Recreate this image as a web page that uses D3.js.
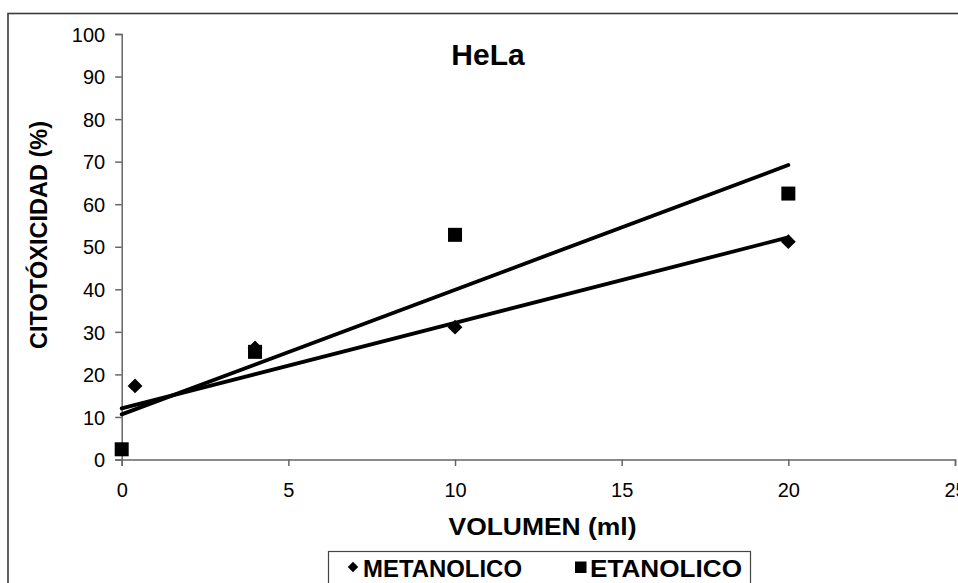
<!DOCTYPE html>
<html>
<head>
<meta charset="utf-8">
<script src="https://cdn.jsdelivr.net/npm/d3@7/dist/d3.min.js"></script>
<style>
  html, body { margin: 0; padding: 0; background: #fff; }
  svg { display: block; font-family: "Liberation Sans", Arial, sans-serif; }
</style>
</head>
<body>
<svg id="chart" width="958" height="583"></svg>
<script>
// Volume (ml) vs. cytotoxicity (%) on HeLa cells
const metanolicoX = [0.4, 4, 10, 20];
const metanolicoY = [17.3, 26.2, 31.1, 51.2];
const etanolicoX = [0, 4, 10, 20];
const etanolicoY = [2.4, 25.3, 52.8, 62.5];

// Linear trend lines: [x, y] at start and end
const metanolicoTrend = [[0, 12.0], [20, 52.2]];
const etanolicoTrend = [[0, 10.6], [20, 69.2]];

const xTicks = [0, 5, 10, 15, 20, 25];
const yTicks = [0, 10, 20, 30, 40, 50, 60, 70, 80, 90, 100];

const svg = d3.select("#chart");

const x = d3.scaleLinear().domain([0, 25]).range([121.7, 955]);
const y = d3.scaleLinear().domain([0, 100]).range([459.5, 34]);

// Outer chart border
svg.append("rect")
  .attr("x", 8).attr("y", 13.5)
  .attr("width", 1000).attr("height", 700)
  .attr("fill", "none").attr("stroke", "#3a3a3a").attr("stroke-width", 1.6);

// Axes
const xAxis = d3.axisBottom(x).tickValues(xTicks).tickSizeOuter(0).tickSize(6.5);
const yAxis = d3.axisLeft(y).tickValues(yTicks).tickSizeOuter(0).tickSize(6.5);

const gx = svg.append("g").attr("transform", `translate(0,${y(0)})`).call(xAxis);
const gy = svg.append("g").attr("transform", `translate(${x(0)},0)`).call(yAxis);

[gx, gy].forEach(g => {
  g.select(".domain").attr("stroke", "#666").attr("stroke-width", 1.5);
  g.selectAll(".tick line").attr("stroke", "#666").attr("stroke-width", 1.5);
  g.selectAll(".tick text").attr("fill", "#000").attr("font-size", 20)
    .attr("font-family", "Liberation Sans, Arial, sans-serif");
});
gx.selectAll(".tick text").attr("dy", 0).attr("y", 37.5);
gy.selectAll(".tick text").attr("x", -16.5).attr("dy", "0.36em");

// Trend lines
const line = d3.line().x(d => x(d[0])).y(d => y(d[1]));
[metanolicoTrend, etanolicoTrend].forEach(t => {
  svg.append("path").attr("d", line(t))
    .attr("fill", "none").attr("stroke", "#000")
    .attr("stroke-width", 3.8).attr("stroke-linecap", "round");
});

// Markers
const diamond = d3.symbol().type(d3.symbolSquare).size(110);
svg.append("g").selectAll("path")
  .data(d3.zip(metanolicoX, metanolicoY))
  .join("path")
  .attr("d", diamond)
  .attr("transform", d => `translate(${x(d[0])},${y(d[1])}) rotate(45)`)
  .attr("fill", "#000");

svg.append("g").selectAll("rect")
  .data(d3.zip(etanolicoX, etanolicoY))
  .join("rect")
  .attr("x", d => x(d[0]) - 7).attr("y", d => y(d[1]) - 7)
  .attr("width", 14).attr("height", 14)
  .attr("fill", "#000");

// Title
svg.append("text")
  .attr("x", 488).attr("y", 65)
  .attr("text-anchor", "middle")
  .attr("font-size", 30).attr("font-weight", "bold")
  .text("HeLa");

// Axis titles
svg.append("text")
  .attr("x", 542.5).attr("y", 535)
  .attr("text-anchor", "middle")
  .attr("font-size", 23).attr("font-weight", "bold")
  .attr("textLength", 188).attr("lengthAdjust", "spacingAndGlyphs")
  .text("VOLUMEN (ml)");

svg.append("text")
  .attr("transform", "translate(46.5,235) rotate(-90)")
  .attr("text-anchor", "middle")
  .attr("font-size", 23.5).attr("font-weight", "bold")
  .text("CITOTÓXICIDAD (%)");

// Legend
const legend = svg.append("g");
legend.append("rect")
  .attr("x", 328.5).attr("y", 551.5)
  .attr("width", 422).attr("height", 60)
  .attr("fill", "#fff").attr("stroke", "#444").attr("stroke-width", 1.2);

legend.append("path")
  .attr("d", d3.symbol().type(d3.symbolSquare).size(55))
  .attr("transform", "translate(353,567) rotate(45)")
  .attr("fill", "#000");
legend.append("text")
  .attr("x", 363).attr("y", 576.5)
  .attr("font-size", 24).attr("font-weight", "bold")
  .attr("textLength", 159).attr("lengthAdjust", "spacingAndGlyphs")
  .text("METANOLICO");

legend.append("rect")
  .attr("x", 575).attr("y", 561.5).attr("width", 11.5).attr("height", 11.5)
  .attr("fill", "#000");
legend.append("text")
  .attr("x", 590).attr("y", 576.5)
  .attr("font-size", 24).attr("font-weight", "bold")
  .attr("textLength", 152).attr("lengthAdjust", "spacingAndGlyphs")
  .text("ETANOLICO");
</script>
</body>
</html>
